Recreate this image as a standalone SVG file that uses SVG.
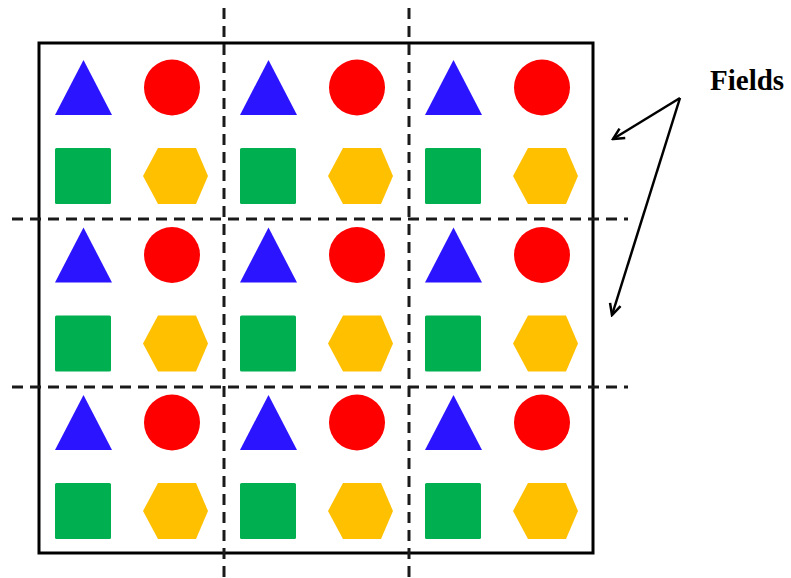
<svg xmlns="http://www.w3.org/2000/svg" xmlns:xlink="http://www.w3.org/1999/xlink" width="791" height="578" viewBox="0 0 791 578">
<style>
.tri{fill:#2B14FF}
.cir{fill:#FF0000}
.sq{fill:#00B050}
.hex{fill:#FFC000}
.dash{stroke:#1a1a1a;stroke-width:3;stroke-dasharray:11 7;fill:none}
.frame{fill:none;stroke:#000;stroke-width:3}
.arrow{stroke:#000;stroke-width:2.5;fill:none;marker-end:url(#ah)}
.lbl{font-family:"Liberation Serif","Times New Roman",serif;font-weight:bold;font-size:29px;fill:#000}
</style>
<defs>
<marker id="ah" viewBox="0 0 14 14" refX="12" refY="7" markerWidth="14" markerHeight="14" markerUnits="userSpaceOnUse" orient="auto">
<path d="M1,1.5 L12,7 L1,12.5" fill="none" stroke="#000" stroke-width="2.5"/>
</marker>
<g id="cell">
<polygon class="tri" points="0,55 28.5,0 57,55"/>
<circle class="cir" cx="117" cy="27.5" r="28"/>
<rect class="sq" x="0" y="88" width="56" height="56" rx="1.5"/>
<polygon class="hex" points="88,116 103,88 141,88 153,116 141,144 103,144"/>
</g>
</defs>
<rect width="791" height="578" fill="#fff"/>
<g id="frame"><rect class="frame" x="39" y="43" width="554" height="510"/></g>
<g id="c11"><use xlink:href="#cell" transform="translate(55,60)"/></g>
<g id="c12"><use xlink:href="#cell" transform="translate(240,60)"/></g>
<g id="c13"><use xlink:href="#cell" transform="translate(425,60)"/></g>
<g id="c21"><use xlink:href="#cell" transform="translate(55,227.5)"/></g>
<g id="c22"><use xlink:href="#cell" transform="translate(240,227.5)"/></g>
<g id="c23"><use xlink:href="#cell" transform="translate(425,227.5)"/></g>
<g id="c31"><use xlink:href="#cell" transform="translate(55,395)"/></g>
<g id="c32"><use xlink:href="#cell" transform="translate(240,395)"/></g>
<g id="c33"><use xlink:href="#cell" transform="translate(425,395)"/></g>
<g id="dividers">
<line class="dash" x1="224" y1="8" x2="224" y2="578"/>
<line class="dash" x1="409" y1="8" x2="409" y2="578"/>
<line class="dash" x1="12" y1="219" x2="628" y2="219"/>
<line class="dash" x1="12" y1="387" x2="628" y2="387"/>
</g>
<g id="label"><text class="lbl" x="710" y="90">Fields</text></g>
<g id="connectors">
<line class="arrow" x1="680" y1="98" x2="613" y2="139"/>
<line class="arrow" x1="680" y1="98" x2="612" y2="315"/>
</g>
</svg>
